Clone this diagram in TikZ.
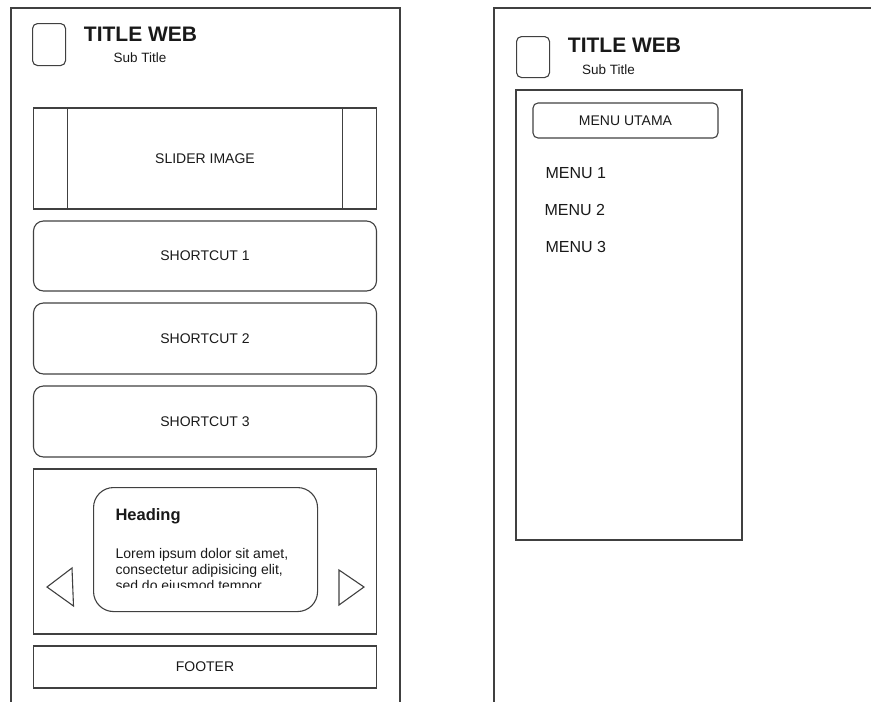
\documentclass[tikz,border=0pt]{standalone}
\usepackage{fontspec}
\setmainfont{Liberation Sans}
\usetikzlibrary{positioning}

\begin{document}
\begin{tikzpicture}[x=1pt, y=-1pt, line width=1.1pt,
  every node/.style={font=\fontsize{14}{16}\selectfont, text=black!90},
  panel/.style={draw=black!75, outer sep=0pt, inner sep=0pt, minimum width=343pt},
  tile/.style={panel, rounded corners=10pt},
  logo/.style={draw=black!75, rounded corners=5pt, minimum width=33pt, minimum height=42pt, inner sep=0pt, anchor=north west},
  titletext/.style={font=\fontsize{21}{24}\selectfont\bfseries, inner sep=0pt},
  subtext/.style={font=\fontsize{13.5}{16}\selectfont, inner sep=0pt},
  menuitem/.style={anchor=west, inner sep=0pt, font=\fontsize{16}{18}\selectfont}]

\useasboundingbox (0,0) rectangle (871,702);

% home screen
\draw[black!75] (11,702) -- (11,8) -- (400,8) -- (400,702);
\node[logo] (logoA) at (32,23) {};
\node[titletext] (titleA) at (140.5,34) {TITLE WEB};
\node[subtext] (subA) at (140,57.5) {Sub Title};

\node[panel, minimum height=101pt, anchor=north] (slider) at (205,108) {SLIDER IMAGE};
\draw[black!75] ([xshift=34pt]slider.north west) -- ([xshift=34pt]slider.south west)
  ([xshift=-34pt]slider.north east) -- ([xshift=-34pt]slider.south east);
\node[tile, minimum height=70pt, below=12pt of slider] (shortA) {SHORTCUT 1};
\node[tile, minimum height=71pt, below=12pt of shortA] (shortB) {SHORTCUT 2};
\node[tile, minimum height=71pt, below=12pt of shortB] (shortC) {SHORTCUT 3};
\node[panel, minimum height=165pt, below=12pt of shortC] (carousel) {};
\node[panel, minimum height=42pt, below=12pt of carousel] (footer) {FOOTER};

\node[draw=black!75, rounded corners=20pt, minimum width=224pt, minimum height=124pt, anchor=north west] (card) at (93,487) {};
\node[anchor=base west, inner sep=0pt, font=\fontsize{16.5}{18}\selectfont\bfseries] (heading) at (115,520) {Heading};
\begin{scope}
  \clip (93,487) rectangle (317,587.5);
  \node[anchor=north west, inner sep=0pt, align=left] (lorem) at (115,547.8)
    {Lorem ipsum dolor sit amet,\\consectetur adipisicing elit,\\sed do eiusmod tempor};
\end{scope}
\draw[black!75] (47,587) -- (72,568) -- (73.5,606) -- cycle;
\draw[black!75] (339,570) -- (364,587) -- (339,605) -- cycle;

% menu screen
\draw[black!75] (871,8) -- (494,8) -- (494,702);
\node[logo, minimum height=41pt] (logoB) at (516,36) {};
\node[titletext] (titleB) at (624.5,45) {TITLE WEB};
\node[subtext] (subB) at (608.5,70) {Sub Title};

\node[draw=black!75, outer sep=0pt, minimum width=226pt, minimum height=450pt, anchor=north west] (menu) at (516,90) {};
\node[draw=black!75, rounded corners=5pt, outer sep=0pt, minimum width=185pt, minimum height=35pt, anchor=north] (mainmenu) at (625.5,103) {MENU UTAMA};
\node[menuitem] (itemA) at (545,173) {MENU 1};
\node[menuitem] (itemB) at (544,210) {MENU 2};
\node[menuitem] (itemC) at (545,247) {MENU 3};

\end{tikzpicture}
\end{document}
